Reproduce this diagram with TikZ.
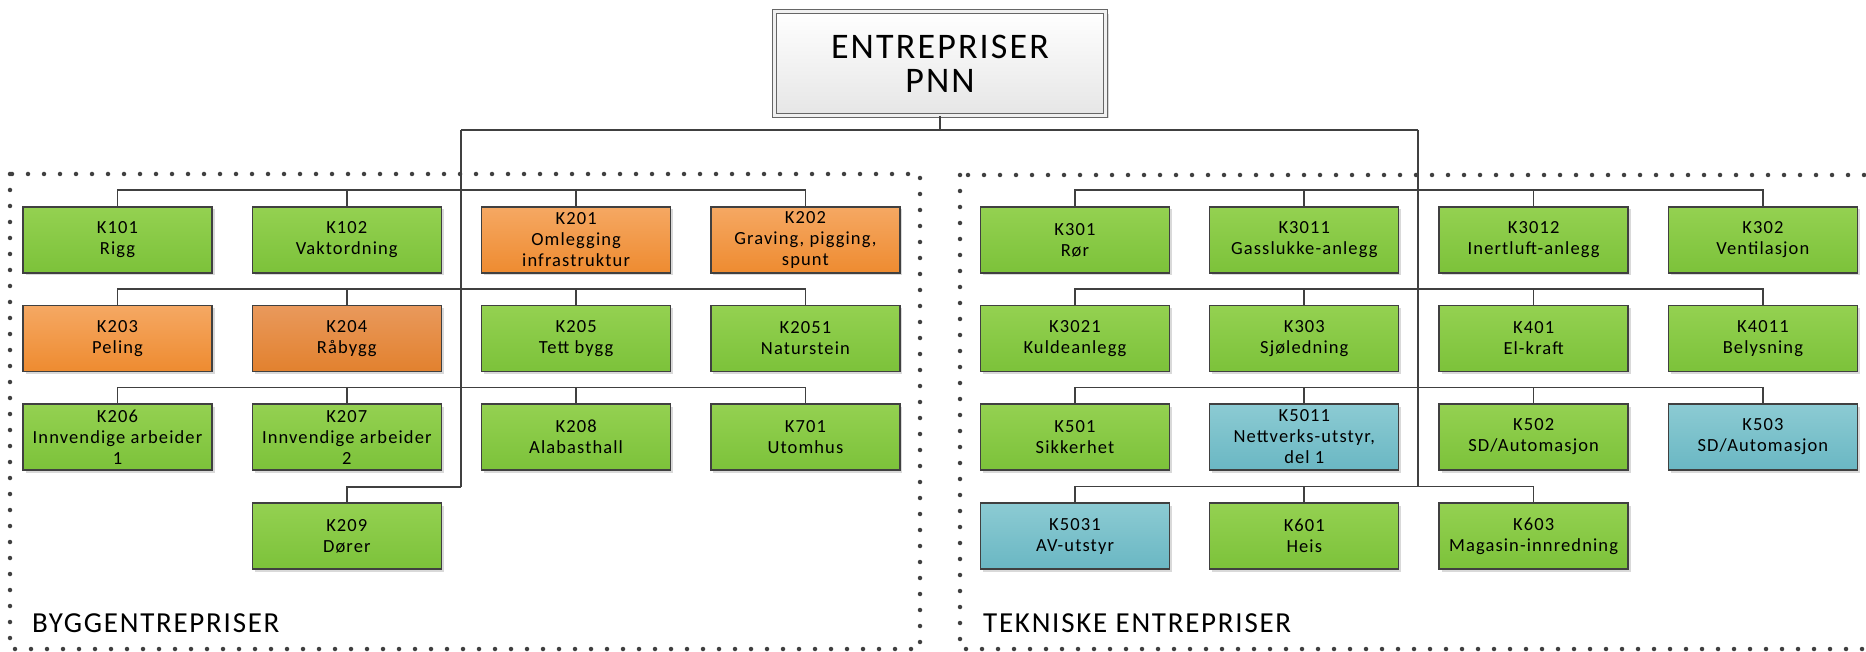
\documentclass[tikz,border=0pt]{standalone}
\usepackage{fontspec}
\setmainfont{Carlito}[LetterSpace=6]
\usetikzlibrary{shadows}

\definecolor{linegray}{HTML}{404040}
\definecolor{greentop}{HTML}{94D151}
\definecolor{greenbot}{HTML}{7CC23A}
\definecolor{orangetop}{HTML}{F5A863}
\definecolor{orangebot}{HTML}{EE8B30}
\definecolor{browntop}{HTML}{E9995C}
\definecolor{brownbot}{HTML}{E2812E}
\definecolor{tealtop}{HTML}{8CCBD3}
\definecolor{tealbot}{HTML}{6AB7C3}

\tikzset{
  kbox/.style={draw=linegray, line width=1.3pt, minimum width=189pt, minimum height=66pt,
    inner sep=0pt, align=center, font=\fontsize{18.5}{21}\selectfont,
    drop shadow={shadow xshift=2.5pt, shadow yshift=-2.5pt, fill=black, opacity=0.15}},
  gbox/.style={kbox, top color=greentop, bottom color=greenbot},
  obox/.style={kbox, top color=orangetop, bottom color=orangebot},
  bbox/.style={kbox, top color=browntop, bottom color=brownbot},
  tbox/.style={kbox, top color=tealtop, bottom color=tealbot},
  rootbox/.style={draw=linegray!80, line width=1pt, double=white!94!black, double distance=3pt,
    minimum width=331pt, minimum height=104pt, align=center,
    top color=white, bottom color=white!90!black,
    font=\fontsize{36}{34}\selectfont,
    drop shadow={shadow xshift=3pt, shadow yshift=-3pt, fill=black, opacity=0.15}},
  conn/.style={draw=linegray, line width=1.7pt},
  trunk/.style={draw=linegray, line width=2.3pt},
  frame/.style={draw=linegray, line width=4.5pt, line cap=round, dash pattern=on 0pt off 16pt},
  grouplabel/.style={anchor=west, inner sep=0pt, font=\fontsize{29}{32}\selectfont}
}

\begin{document}
\begin{tikzpicture}[x=1pt, y=-1pt]
  \useasboundingbox (0,0) rectangle (1866,652);

  % Dotted group frames
  \draw[frame] (10,174) rectangle (920,649);
  \draw[frame] (960,175) rectangle (1890,649);

  \node[grouplabel] (bygg) at (32,623) {BYGGENTREPRISER};
  \node[grouplabel] (tekn) at (983,623) {TEKNISKE ENTREPRISER};

  % Top box
  \node[rootbox] (root) at (940,63.5) {ENTREPRISER\\PNN};

  % Byggentrepriser (4 columns, 4 rows)
  \node[gbox] (k101) at (117.5,240) {K101\\Rigg};
  \node[gbox] (k102) at (346.8,240) {K102\\Vaktordning};
  \node[obox] (k201) at (576.1,240) {K201\\Omlegging\\infrastruktur};
  \node[obox] (k202) at (805.4,240) {K202\\Graving, pigging,\\spunt};

  \node[obox] (k203) at (117.5,338.5) {K203\\Peling};
  \node[bbox] (k204) at (346.8,338.5) {K204\\Råbygg};
  \node[gbox] (k205) at (576.1,338.5) {K205\\Tett bygg};
  \node[gbox] (k2051) at (805.4,338.5) {K2051\\Naturstein};

  \node[gbox] (k206) at (117.5,437) {K206\\Innvendige arbeider\\1};
  \node[gbox] (k207) at (346.8,437) {K207\\Innvendige arbeider\\2};
  \node[gbox] (k208) at (576.1,437) {K208\\Alabasthall};
  \node[gbox] (k701) at (805.4,437) {K701\\Utomhus};

  \node[gbox] (k209) at (346.8,536) {K209\\Dører};

  % Tekniske entrepriser
  \node[gbox] (k301) at (1075,240) {K301\\Rør};
  \node[gbox] (k3011) at (1304.3,240) {K3011\\Gasslukke-anlegg};
  \node[gbox] (k3012) at (1533.6,240) {K3012\\Inertluft-anlegg};
  \node[gbox] (k302) at (1762.9,240) {K302\\Ventilasjon};

  \node[gbox] (k3021) at (1075,338.5) {K3021\\Kuldeanlegg};
  \node[gbox] (k303) at (1304.3,338.5) {K303\\Sjøledning};
  \node[gbox] (k401) at (1533.6,338.5) {K401\\El-kraft};
  \node[gbox] (k4011) at (1762.9,338.5) {K4011\\Belysning};

  \node[gbox] (k501) at (1075,437) {K501\\Sikkerhet};
  \node[tbox] (k5011) at (1304.3,437) {K5011\\Nettverks-utstyr,\\del 1};
  \node[gbox] (k502) at (1533.6,437) {K502\\SD/Automasjon};
  \node[tbox] (k503) at (1762.9,437) {K503\\SD/Automasjon};

  \node[tbox] (k5031) at (1075,536) {K5031\\AV-utstyr};
  \node[gbox] (k601) at (1304.3,536) {K601\\Heis};
  \node[gbox] (k603) at (1533.6,536) {K603\\Magasin-innredning};

  % Trunks from the top box
  \coordinate (ltop) at (461,130);
  \coordinate (rtop) at (1418,130);
  \coordinate (lend) at (461,487);
  \coordinate (rend) at (1418,487);
  \draw[trunk] (root.south) -- (root.south |- ltop);
  \draw[trunk] (ltop) -- (rtop);
  \draw[trunk] (ltop) -- (lend);
  \draw[trunk] (rtop) -- (rend);

  % Row connectors
  \foreach \a/\b/\c/\d in {k101/k102/k201/k202, k203/k204/k205/k2051, k206/k207/k208/k701,
                            k301/k3011/k3012/k302, k3021/k303/k401/k4011, k501/k5011/k502/k503} {
    \draw[conn] (\a.north) -- ++(0,-16) -| (\d.north);
    \draw[conn] (\b.north) -- ++(0,-16);
    \draw[conn] (\c.north) -- ++(0,-16);
  }
  \draw[conn] (lend) -| (k209.north);
  \draw[conn] (k5031.north) -- ++(0,-16) -| (k603.north);
  \draw[conn] (k601.north) -- ++(0,-16);
\end{tikzpicture}
\end{document}
